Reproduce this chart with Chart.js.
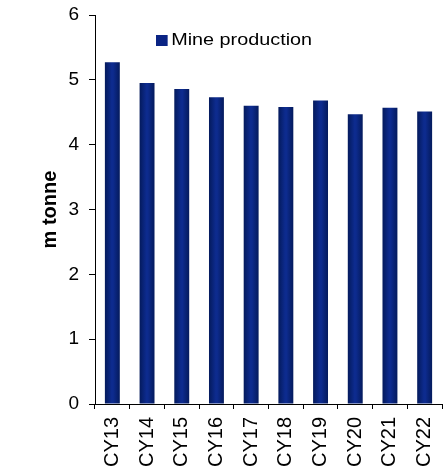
<!DOCTYPE html>
<html>
<head>
<meta charset="utf-8">
<script src="https://cdn.jsdelivr.net/npm/chart.js@4.4.0/dist/chart.umd.min.js"></script>
<style>
  body { margin: 0; background: #fff; overflow: hidden; }
  #wrap { position: relative; width: 443px; height: 466px; }
  /* legend text in the source is drawn wider than its height suggests */
  #legend {
    position: absolute; left: 156px; top: 30px;
    font-family: "Liberation Sans", Arial, sans-serif; font-size: 17px; color: #000;
    display: flex; align-items: center; white-space: nowrap;
    transform: scaleX(1.165); transform-origin: 0 0;
  }
  #legend span.box { display: inline-block; width: 10px; height: 11px; background: #0A2484; margin-right: 3px; }
</style>
</head>
<body>
<div id="wrap">
  <canvas id="chart" width="443" height="466"></canvas>
  <div id="legend"><span class="box"></span>Mine production</div>
</div>
<script>
const categories = ["CY13", "CY14", "CY15", "CY16", "CY17", "CY18", "CY19", "CY20", "CY21", "CY22"];
const mineProduction = [5.27, 4.95, 4.86, 4.73, 4.60, 4.58, 4.68, 4.47, 4.57, 4.51];
const yTicks = [0, 1, 2, 3, 4, 5, 6];

const font = "'Liberation Sans', Arial, sans-serif";

// horizontal shading like the original bars: dark edges, lighter middle
function barFill(ctx) {
  const chart = ctx.chart;
  const xs = chart.scales.x;
  if (!xs || ctx.dataIndex == null) return "#0A2484";
  const cx = xs.getPixelForValue(ctx.dataIndex);
  if (!isFinite(cx)) return "#0A2484";
  const g = chart.ctx.createLinearGradient(cx - 7.5, 0, cx + 7.5, 0);
  g.addColorStop(0, "#041A5C");
  g.addColorStop(0.45, "#0D2B8E");
  g.addColorStop(0.55, "#0D2B8E");
  g.addColorStop(1, "#041A5C");
  return g;
}

new Chart(document.getElementById("chart"), {
  type: "bar",
  data: {
    labels: categories,
    datasets: [{
      label: "Mine production",
      data: mineProduction,
      backgroundColor: barFill,
      borderWidth: 0,
      categoryPercentage: 1,
      barPercentage: 0.43
    }]
  },
  options: {
    responsive: false,
    animation: false,
    layout: { padding: { top: 15, right: 1, left: 0, bottom: 0 } },
    plugins: { legend: { display: false }, tooltip: { enabled: false } },
    scales: {
      x: {
        // fixed box so the plot area lines up with the source
        afterFit: s => { s.height = 62; s.paddingLeft = 0; s.paddingRight = 0; },
        grid: { drawOnChartArea: false, drawTicks: true, tickLength: 5, color: "#000", offset: true },
        border: { color: "#000", width: 1 },
        ticks: { color: "#000", font: { family: font, size: 20 }, minRotation: 90, maxRotation: 90, padding: 8 }
      },
      y: {
        min: 0, max: 6,
        afterFit: s => { s.width = 95; s.paddingTop = 0; s.paddingBottom = 0; },
        afterBuildTicks: s => { s.ticks = yTicks.map(v => ({ value: v })); },
        grid: { drawOnChartArea: false, drawTicks: true, tickLength: 6, color: "#000" },
        border: { color: "#000", width: 1 },
        ticks: { color: "#000", font: { family: font, size: 19 }, padding: 10 },
        title: { display: true, text: "m tonne", color: "#000", font: { family: font, size: 20, weight: "bold" }, padding: { top: 38, bottom: 0 } }
      }
    }
  }
});
</script>
</body>
</html>
